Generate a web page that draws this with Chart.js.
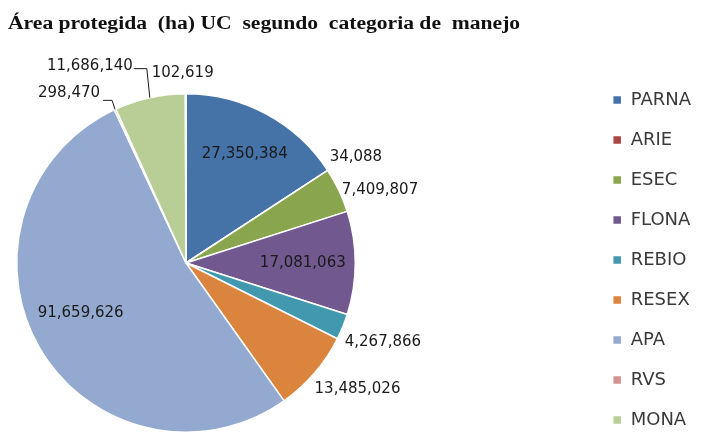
<!DOCTYPE html>
<html>
<head>
<meta charset="utf-8">
<script src="https://cdn.jsdelivr.net/npm/chart.js@4.4.1/dist/chart.umd.min.js"></script>
<style>
  html, body { margin: 0; padding: 0; background: #fff; overflow: hidden; }
  /* canvas runs a little below the window so the legend column sits lower */
  #wrap { width: 703px; height: 451px; position: relative; }
  #title {
    position: absolute; left: 8px; top: 14px; margin: 0;
    font: bold 18px/18px "Liberation Serif", serif; color: #111;
    white-space: pre; transform: scaleX(1.2); transform-origin: left top;
  }
</style>
</head>
<body>
<div id="wrap">
  <canvas id="pieChart"></canvas>
  <div id="title">Área protegida  (ha) UC  segundo  categoria de  manejo</div>
</div>
<script>
const categories = ['PARNA', 'ARIE', 'ESEC', 'FLONA', 'REBIO', 'RESEX', 'APA', 'RVS', 'MONA', 'RDS'];
const areas = [27350384, 34088, 7409807, 17081063, 4267866, 13485026, 91659626, 298470, 11686140, 102619];
const colors = ['#4572A7', '#AA4643', '#89A54E', '#71588F', '#4198AF', '#DB843D', '#93A9CF', '#D19392', '#B9CD96', '#A99BBD'];
const legendCount = 9; // last category has no legend entry in the original

// where each value label goes, relative to its slice (f = fraction of radius along mid angle)
const labelPlace = [
    { f: 0.73, dx: 0, dy: 0, align: 'center' },
    { f: 1.0, dx: 2, dy: -13, align: 'left' },
    { f: 1.0, dx: 3, dy: 0, align: 'left' },
    { f: 0.69, dx: 0, dy: 0, align: 'center' },
    { f: 1.0, dx: 2, dy: 15, align: 'left' },
    { f: 1.0, dx: 0, dy: 16, align: 'left' },
    { f: 0.70, dx: -3, dy: -10, align: 'center' },
    { f: 1.0, dx: -15, dy: -16, align: 'right', leader: [[-3, -9], [-12, -9]] },
    { f: 1.0, dx: -17, dy: -32, align: 'right', leader: [[-3, -29], [-16, -29]] },
    { f: 1.0, dx: -3, dy: -21, align: 'center' }
];

// pie box: Chart.js centres the pie in the chart area, so pin the area
const pieBox = { left: 16, top: 93, size: 340 };

const pinArea = {
    id: 'pinArea',
    afterLayout(chart) {
        chart.chartArea = {
            left: pieBox.left, top: pieBox.top,
            right: pieBox.left + pieBox.size, bottom: pieBox.top + pieBox.size,
            width: pieBox.size, height: pieBox.size
        };
    }
};

const valueLabels = {
    id: 'valueLabels',
    afterDatasetsDraw(chart) {
        const ctx = chart.ctx;
        const arcs = chart.getDatasetMeta(0).data;
        ctx.save();
        ctx.font = '15px "DejaVu Sans", sans-serif';
        ctx.fillStyle = '#1a1a1a';
        ctx.strokeStyle = '#1a1a1a';
        ctx.lineWidth = 1;
        ctx.textBaseline = 'middle';
        arcs.forEach((arc, i) => {
            const p = labelPlace[i];
            const mid = (arc.startAngle + arc.endAngle) / 2;
            const ax = arc.x + Math.cos(mid) * arc.outerRadius * p.f;
            const ay = arc.y + Math.sin(mid) * arc.outerRadius * p.f;
            if (p.leader) {
                ctx.beginPath();
                ctx.moveTo(ax, ay);
                p.leader.forEach(pt => ctx.lineTo(ax + pt[0], ay + pt[1]));
                ctx.stroke();
            }
            ctx.textAlign = p.align;
            ctx.fillText(areas[i].toLocaleString('en-US'), ax + p.dx, ay + p.dy);
        });
        ctx.restore();
    }
};

new Chart(document.getElementById('pieChart'), {
    type: 'pie',
    data: {
        labels: categories,
        datasets: [{
            data: areas,
            backgroundColor: colors,
            borderColor: '#ffffff',
            borderWidth: 1.5
        }]
    },
    options: {
        responsive: true, maintainAspectRatio: false, animation: false,
        layout: { padding: { right: 2 } },
        plugins: {
            title: { display: false },
            legend: {
                position: 'right',
                align: 'end',
                labels: {
                    color: '#3a3a3a',
                    font: { family: '"DejaVu Sans", sans-serif', size: 18 },
                    boxWidth: 9, boxHeight: 9,
                    padding: 22,
                    filter: item => item.index < legendCount
                }
            },
            tooltip: { enabled: false }
        }
    },
    plugins: [pinArea, valueLabels]
});
</script>
</body>
</html>
